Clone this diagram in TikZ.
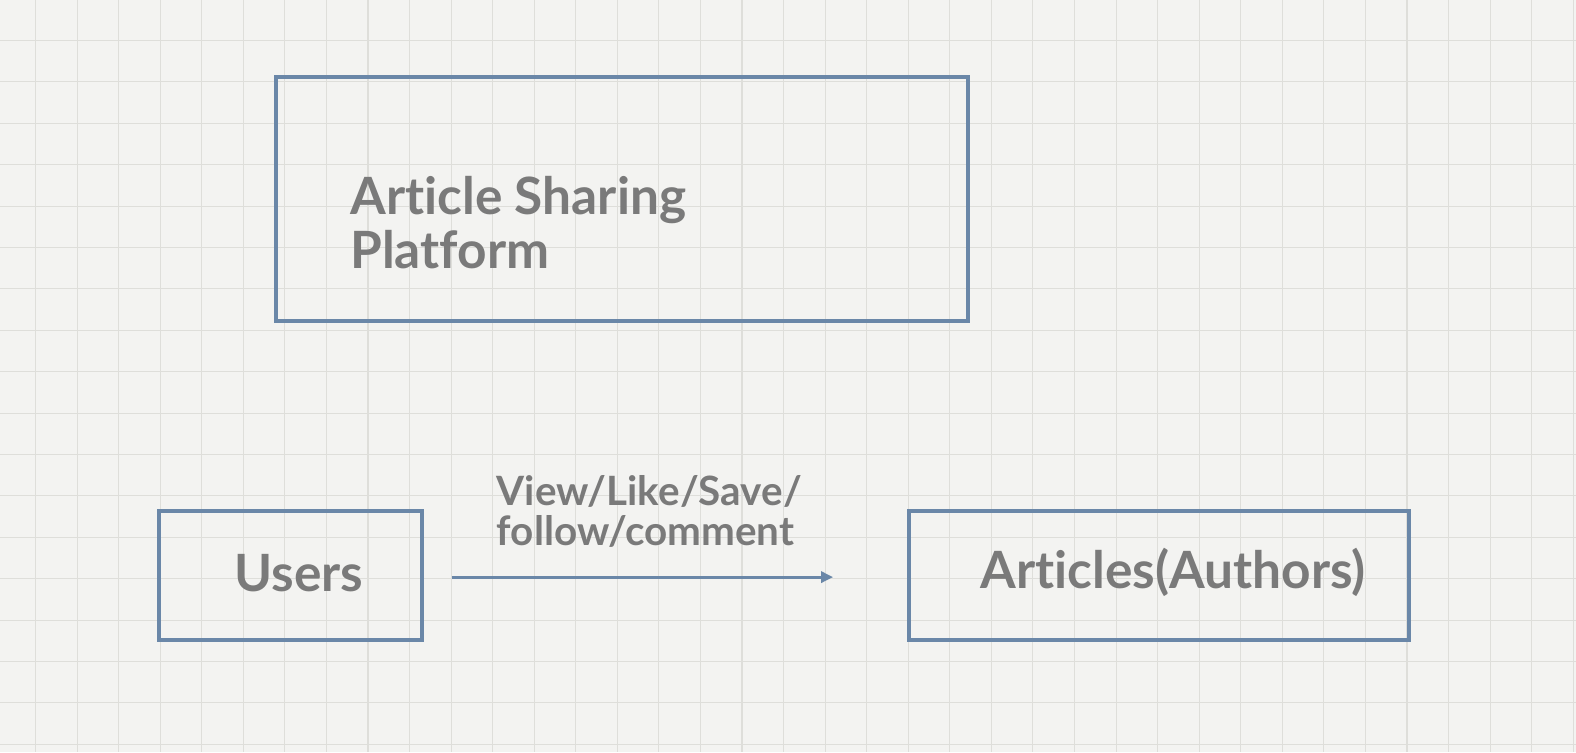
\documentclass[tikz,border=0pt]{standalone}
\usepackage{fontspec}
\setmainfont{Lato}[Ligatures = {NoCommon}]
\usepackage{tikz}
\usetikzlibrary{arrows.meta}
\usetikzlibrary{positioning}
\definecolor{paper}{HTML}{F3F3F1}
\definecolor{gridgray}{HTML}{DEDEDA}
\definecolor{boxblue}{HTML}{6A87A8}
\definecolor{textgray}{HTML}{7A7A7A}
\tikzset{box/.style = {draw = boxblue, line width = 1.9pt, rectangle, inner sep = 0}}
\tikzset{big/.style = {text = textgray, inner sep = 0, align = left,
                       font = \fontsize{25.7}{27}\selectfont\bfseries}}
\tikzset{small/.style = {text = textgray, inner sep = 0, align = left,
                         font = \fontsize{20.2}{20}\selectfont\bfseries}}
\tikzset{gridline/.style = {draw = gridgray, line width = 0.55pt}}

\begin{document}
\begin{tikzpicture}[x = 0.5pt, y = -0.5pt]
      \useasboundingbox [fill = paper] (0, 0) rectangle (1576, 752);
      % squared paper
      \foreach \i in {0, ..., 37}
        \draw [gridline] ({35.5 + 41.56*\i}, 0) -- ++(0, 752);
      \foreach \j in {0, ..., 17}
        \draw [gridline] (0, {40.5 + 41.4*\j}) -- ++(1576, 0);

      \node [box, minimum width = 346pt, minimum height = 122pt] (platform) at (622, 199) {};
      \node [box, minimum width = 131.5pt, minimum height = 64.5pt] (users) at (290.5, 575.5) {};
      \node [box, minimum width = 250pt, minimum height = 64.5pt] (articles) at (1159, 575.5) {};

      % base of a two-line node is its last line
      \node [big, anchor = base west] (platformtext) at (350, 268) {Article Sharing\\Platform};
      \node [big, anchor = base west] (userstext) at (234, 591) {Users};
      \node [big, anchor = base west] (articlestext) at (980, 588) {Articles(Authors)};
      \node [small, anchor = base west] (actions) at (496.5, 545) {View/Like/Save/\\follow/comment};

      \draw [boxblue, line width = 1.5pt, -{Triangle[length = 6pt, width = 5.5pt]}] ([xshift = 14pt, yshift = -0.8pt]users.east) -- ([xshift = -37pt, yshift = -0.8pt]articles.west);
    \end{tikzpicture}
\end{document}
